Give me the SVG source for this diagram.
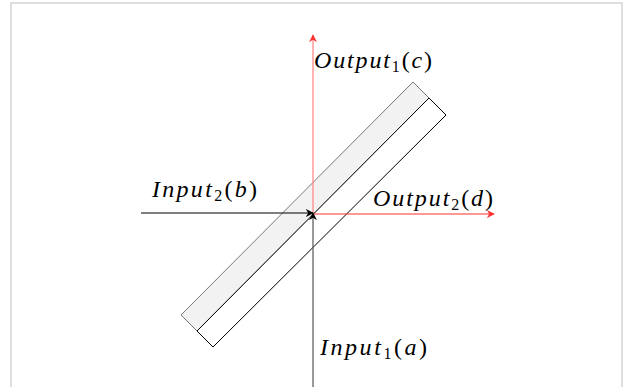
<svg xmlns="http://www.w3.org/2000/svg" width="624" height="387" viewBox="0 0 624 387">
<defs>
<style>
.lbl{font-family:"Liberation Serif","DejaVu Serif",serif;font-size:24px;fill:#000}
.it{font-style:italic}
.sub{font-size:16px}
.ax{fill:none;stroke-width:1.2}
</style>
<marker id="ab" viewBox="0 0 10 10" refX="9" refY="5" markerWidth="8" markerHeight="8" orient="auto" markerUnits="userSpaceOnUse"><path d="M0,0 L10,5 L0,10 L3,5 Z" fill="#000"/></marker>
<marker id="ar" viewBox="0 0 10 10" refX="9" refY="5" markerWidth="8" markerHeight="8" orient="auto" markerUnits="userSpaceOnUse"><path d="M0,0 L10,5 L0,10 L3,5 Z" fill="#ff3030"/></marker>
</defs>
<rect x="11" y="3" width="611" height="400" fill="#fff" stroke="#c8c8c8" stroke-width="1.2"/>
<g id="splitter">
<polygon points="413,82 429,98 197,331 181,315" fill="#f2f2f2" stroke="#777" stroke-width="1"/>
<polygon points="429,98 446,115 213,347 197,331" fill="#fff" stroke="#000" stroke-width="1"/>
</g>
<g id="connectors">
<line class="ax" x1="313" y1="214" x2="313" y2="35" stroke="#ff8080" marker-end="url(#ar)"/>
<line class="ax" x1="313" y1="214" x2="494" y2="214" stroke="#ff3030" marker-end="url(#ar)"/>
<line class="ax" x1="141" y1="213" x2="313" y2="213" stroke="#000" marker-end="url(#ab)"/>
<line class="ax" x1="313" y1="387" x2="313" y2="213" stroke="#555" marker-end="url(#ab)"/>
</g>
<g id="labels">
<text id="in2" class="lbl" x="152" y="197" textLength="105" lengthAdjust="spacing"><tspan class="it">Input</tspan><tspan class="sub" dy="4">2</tspan><tspan dy="-4">(</tspan><tspan class="it">b</tspan>)</text>
<text id="out1" class="lbl" x="314" y="68" textLength="118" lengthAdjust="spacing"><tspan class="it">Output</tspan><tspan class="sub" dy="4">1</tspan><tspan dy="-4">(</tspan><tspan class="it">c</tspan>)</text>
<text id="out2" class="lbl" x="373" y="206" textLength="120" lengthAdjust="spacing"><tspan class="it">Output</tspan><tspan class="sub" dy="4">2</tspan><tspan dy="-4">(</tspan><tspan class="it">d</tspan>)</text>
<text id="in1" class="lbl" x="320" y="355" textLength="107" lengthAdjust="spacing"><tspan class="it">Input</tspan><tspan class="sub" dy="4">1</tspan><tspan dy="-4">(</tspan><tspan class="it">a</tspan>)</text>
</g>
</svg>
